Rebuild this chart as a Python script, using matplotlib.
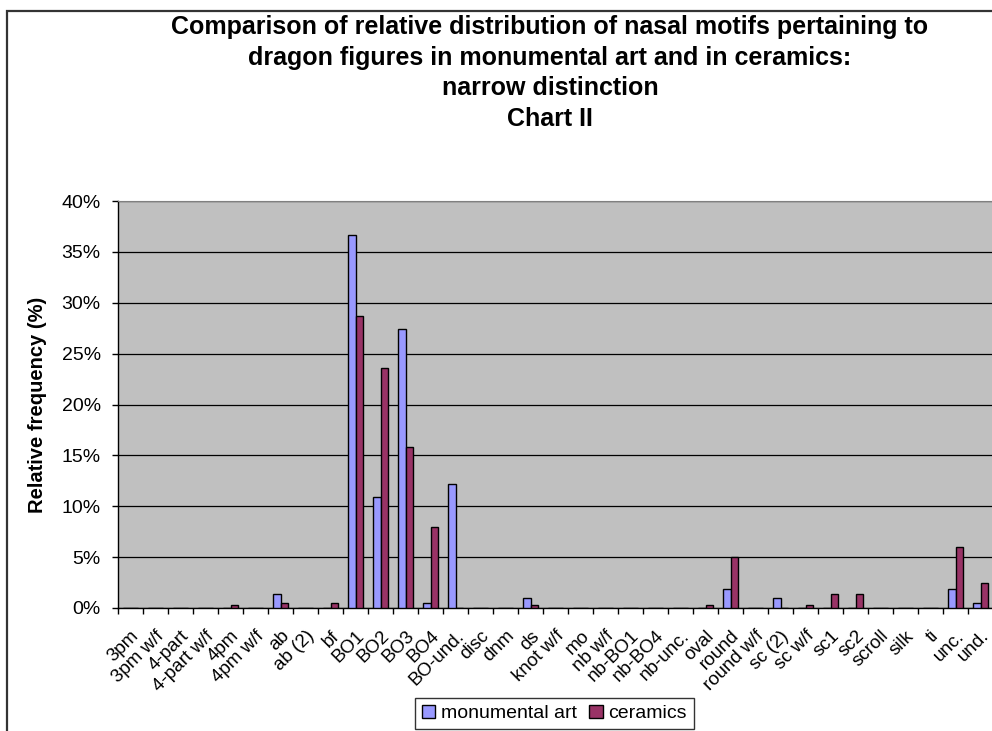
import numpy as np
import matplotlib
matplotlib.use('Agg')
import matplotlib.pyplot as plt
from matplotlib.ticker import PercentFormatter, FixedLocator
from matplotlib.patches import Rectangle

plt.rcParams['font.family'] = ['Liberation Sans', 'DejaVu Sans']

categories = ['3pm', '3pm w/f', '4-part', '4-part w/f', '4pm', '4pm w/f', 'ab', 'ab (2)',
              'bf', 'BO1', 'BO2', 'BO3', 'BO4', 'BO-und.', 'disc', 'dnm', 'ds', 'knot w/f',
              'mo', 'nb w/f', 'nb-BO1', 'nb-BO4', 'nb-unc.', 'oval', 'round', 'round w/f',
              'sc (2)', 'sc w/f', 'sc1', 'sc2', 'scroll', 'silk', 'ti', 'unc.', 'und.']
monumental = [0, 0, 0, 0, 0, 0, 1.4, 0, 0, 36.7, 10.9, 27.4, 0.5, 12.2, 0, 0, 1.0, 0,
              0, 0, 0, 0, 0, 0, 1.9, 0, 1.0, 0, 0, 0, 0, 0, 0, 1.9, 0.5]
ceramics = [0, 0, 0, 0, 0.3, 0, 0.5, 0, 0.5, 28.7, 23.6, 15.8, 8.0, 0, 0, 0, 0.25, 0,
            0, 0, 0, 0, 0, 0.25, 5.0, 0, 0, 0.25, 1.4, 1.4, 0, 0, 0, 6.0, 2.5]
yticks = [0, 5, 10, 15, 20, 25, 30, 35, 40]

W, H = 992, 731
fig = plt.figure(figsize=(W / 100, H / 100), dpi=100)

# outer chart frame, cropped on the right and at the bottom
fig.patches.append(Rectangle((7 / W, -0.1), 1.2, 1 - 11 / H + 0.1,
                             transform=fig.transFigure, fill=False,
                             edgecolor='#333333', linewidth=1.6))

ax = fig.add_axes([118 / W, 1 - 608 / H, (993 - 118) / W, (608 - 201) / H])
ax.set_facecolor('#C0C0C0')

x = np.arange(len(categories))
bw = 0.31
ax.bar(x - bw / 2, np.array(monumental) / 100, bw, color='#9999FF',
       edgecolor='black', linewidth=1.0, label='monumental art', zorder=3)
ax.bar(x + bw / 2, np.array(ceramics) / 100, bw, color='#993366',
       edgecolor='black', linewidth=1.0, label='ceramics', zorder=3)

ax.set_xlim(-0.5, len(categories) - 0.5)
ax.set_ylim(0, 0.40)
ax.set_yticks([v / 100 for v in yticks])
ax.yaxis.set_major_formatter(PercentFormatter(1.0, decimals=0))
ax.grid(axis='y', color='black', linewidth=0.9, zorder=1)

ax.set_xticks(x)
ax.set_xticklabels(categories, rotation=45, ha='right', rotation_mode='anchor',
                   fontsize=13.5)
ax.tick_params(axis='x', length=0, pad=14)
ax.xaxis.set_minor_locator(FixedLocator(np.arange(-0.5, len(categories), 1)))
ax.tick_params(axis='x', which='minor', length=4.5, width=1, direction='out', color='black')
ax.tick_params(axis='y', length=4.5, width=1, direction='out', labelsize=14, pad=8)

for side in ['top', 'right']:
    ax.spines[side].set_color('#808080')
for side in ['left', 'bottom']:
    ax.spines[side].set_color('black')
    ax.spines[side].set_linewidth(1.0)

ax.set_ylabel('Relative frequency (%)', fontsize=14.5, fontweight='bold', labelpad=10)

fig.text(550 / W, 1 - 15 / H,
         'Comparison of relative distribution of nasal motifs pertaining to\n'
         'dragon figures in monumental art and in ceramics:\n'
         'narrow distinction\nChart II',
         ha='center', va='top', fontsize=18, fontweight='bold', linespacing=1.35)

leg = fig.legend(loc='upper left', bbox_to_anchor=(415 / W, 1 - 698 / H),
                 ncol=2, fontsize=14, frameon=True, fancybox=False,
                 handlelength=0.7, handleheight=0.7, handletextpad=0.3,
                 columnspacing=0.6, borderpad=0.35, borderaxespad=0)
leg.get_frame().set_edgecolor('black')
leg.get_frame().set_linewidth(1.0)

fig.savefig('out.png', dpi=100)
